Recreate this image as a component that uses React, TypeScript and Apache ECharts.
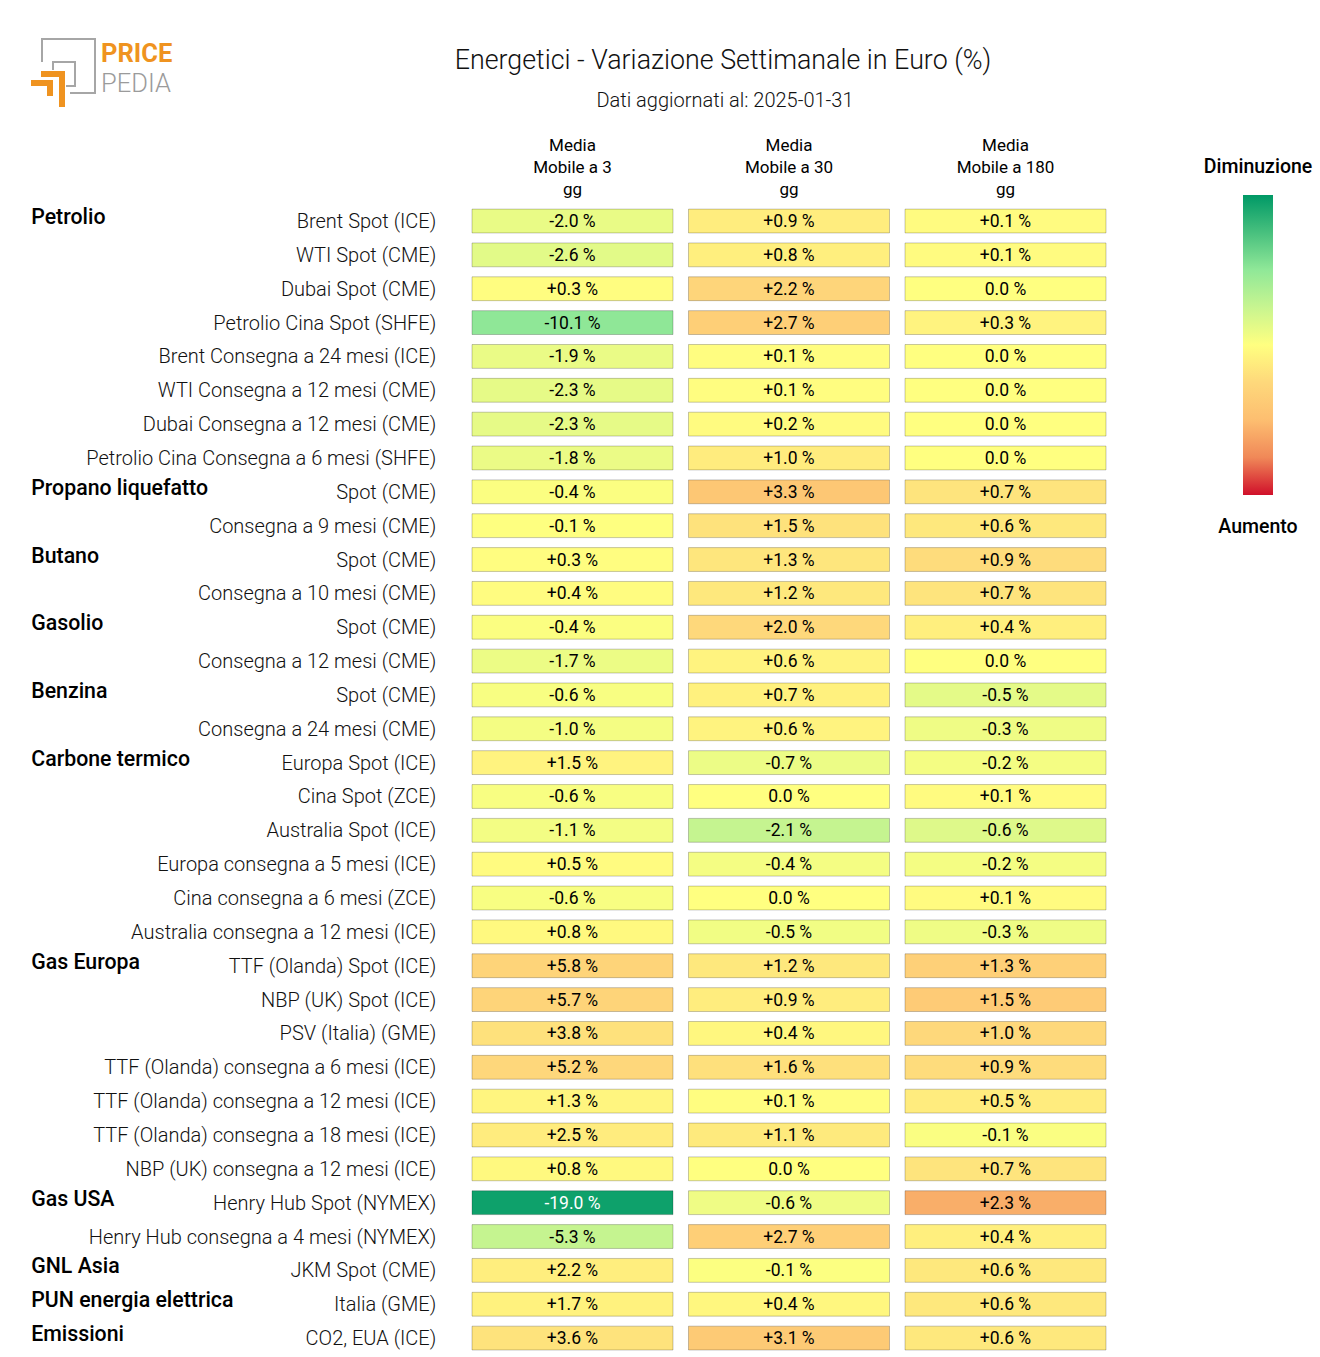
import React, { useEffect, useRef } from "react";
import * as echarts from "echarts";

const FONT = "Roboto, sans-serif";

const columns = ["Media\nMobile a 3\ngg", "Media\nMobile a 30\ngg", "Media\nMobile a 180\ngg"];

const groups = [
  "Petrolio", "", "", "", "", "", "", "",
  "Propano liquefatto", "",
  "Butano", "",
  "Gasolio", "",
  "Benzina", "",
  "Carbone termico", "", "", "", "", "",
  "Gas Europa", "", "", "", "", "", "",
  "Gas USA", "",
  "GNL Asia",
  "PUN energia elettrica",
  "Emissioni",
];

const items = [
  "Brent Spot (ICE)",
  "WTI Spot (CME)",
  "Dubai Spot (CME)",
  "Petrolio Cina Spot (SHFE)",
  "Brent Consegna a 24 mesi (ICE)",
  "WTI Consegna a 12 mesi (CME)",
  "Dubai Consegna a 12 mesi (CME)",
  "Petrolio Cina Consegna a 6 mesi (SHFE)",
  "Spot (CME)",
  "Consegna a 9 mesi (CME)",
  "Spot (CME)",
  "Consegna a 10 mesi (CME)",
  "Spot (CME)",
  "Consegna a 12 mesi (CME)",
  "Spot (CME)",
  "Consegna a 24 mesi (CME)",
  "Europa Spot (ICE)",
  "Cina Spot (ZCE)",
  "Australia Spot (ICE)",
  "Europa consegna a 5 mesi (ICE)",
  "Cina consegna a 6 mesi (ZCE)",
  "Australia consegna a 12 mesi (ICE)",
  "TTF (Olanda) Spot (ICE)",
  "NBP (UK) Spot (ICE)",
  "PSV (Italia) (GME)",
  "TTF (Olanda) consegna a 6 mesi (ICE)",
  "TTF (Olanda) consegna a 12 mesi (ICE)",
  "TTF (Olanda) consegna a 18 mesi (ICE)",
  "NBP (UK) consegna a 12 mesi (ICE)",
  "Henry Hub Spot (NYMEX)",
  "Henry Hub consegna a 4 mesi (NYMEX)",
  "JKM Spot (CME)",
  "Italia (GME)",
  "CO2, EUA (ICE)",
];

const mm3 = [
  -2.0, -2.6, 0.3, -10.1, -1.9, -2.3, -2.3, -1.8,
  -0.4, -0.1, 0.3, 0.4, -0.4, -1.7, -0.6, -1.0,
  1.5, -0.6, -1.1, 0.5, -0.6, 0.8,
  5.8, 5.7, 3.8, 5.2, 1.3, 2.5, 0.8,
  -19.0, -5.3, 2.2, 1.7, 3.6,
];
const mm30 = [
  0.9, 0.8, 2.2, 2.7, 0.1, 0.1, 0.2, 1.0,
  3.3, 1.5, 1.3, 1.2, 2.0, 0.6, 0.7, 0.6,
  -0.7, 0.0, -2.1, -0.4, 0.0, -0.5,
  1.2, 0.9, 0.4, 1.6, 0.1, 1.1, 0.0,
  -0.6, 2.7, -0.1, 0.4, 3.1,
];
const mm180 = [
  0.1, 0.1, 0.0, 0.3, 0.0, 0.0, 0.0, 0.0,
  0.7, 0.6, 0.9, 0.7, 0.4, 0.0, -0.5, -0.3,
  -0.2, 0.1, -0.6, -0.2, 0.1, -0.3,
  1.3, 1.5, 1.0, 0.9, 0.5, -0.1, 0.7,
  2.3, 0.4, 0.6, 0.6, 0.6,
];

const colRanges = [20, 8, 4];

const palette = [
  "#009966", "#48c07e", "#90e898", "#c8f590", "#ffff80",
  "#fed87b", "#fdbe70", "#f08858", "#d0102a",
];

function fmt(v: number): string {
  if (v > 0) return "+" + v.toFixed(1) + " %";
  if (v < 0) return "-" + Math.abs(v).toFixed(1) + " %";
  return "0.0 %";
}

const GRID_LEFT = 464.25;
const GRID_TOP = 204.1;
const GRID_W = 649.5;
const GRID_H = 1150.9;

export default function App() {
  const ref = useRef<HTMLDivElement>(null);
  useEffect(() => {
    if (!ref.current) return;
    const chart = echarts.init(ref.current, undefined, { renderer: "svg" });
    const cols = [mm3, mm30, mm180];
    const series = cols.map((vals, ci) => ({
      type: "custom",
      coordinateSystem: "cartesian2d",
      xAxisIndex: 0,
      yAxisIndex: 0,
      data: vals.map((v, ri) => [ci, ri, v]),
      encode: { x: 0, y: 1 },
      renderItem: (params: any, api: any) => {
        const x = api.value(0);
        const y = api.value(1);
        const v = api.value(2);
        const c = api.coord([x, y]);
        const s = api.size([1, 1]);
        const w = s[0] - 15.5;
        const h = s[1] - 10;
        const norm = v / colRanges[ci];
        const dark = norm < -0.75 || norm > 0.85;
        return {
          type: "group",
          children: [
            {
              type: "rect",
              shape: { x: c[0] - w / 2, y: c[1] - h / 2, width: w, height: h },
              style: { fill: api.visual("color"), stroke: "rgba(0,0,0,0.22)", lineWidth: 1 },
            },
            {
              type: "text",
              style: {
                text: fmt(v),
                x: c[0],
                y: c[1],
                align: "center",
                verticalAlign: "middle",
                fontFamily: FONT,
                fontSize: 17.5,
                fill: dark ? "#ffffff" : "#000000",
              },
            },
          ],
        };
      },
    }));

    const gradColors = palette.map((c, i) => ({ offset: i / (palette.length - 1), color: c }));

    const hiddenCat = {
      axisLine: { show: false },
      axisTick: { show: false },
      splitLine: { show: false },
    };

    chart.setOption({
      animation: false,
      backgroundColor: "#ffffff",
      textStyle: { fontFamily: FONT },
      title: [
        {
          text: "Energetici - Variazione Settimanale in Euro (%)",
          left: 718,
          top: 41,
          textAlign: "center",
          textStyle: { fontFamily: FONT, fontSize: 26.8, fontWeight: 300, color: "#111" },
        },
        {
          text: "Dati aggiornati al: 2025-01-31",
          left: 720,
          top: 85,
          textAlign: "center",
          textStyle: { fontFamily: FONT, fontSize: 20, fontWeight: 300, color: "#111" },
        },
      ],
      grid: [
        { left: GRID_LEFT, top: GRID_TOP, width: GRID_W, height: GRID_H, containLabel: false },
        { left: GRID_LEFT, top: GRID_TOP - 4.5, width: GRID_W, height: GRID_H, containLabel: false },
      ],
      xAxis: [
        {
          type: "category",
          gridIndex: 0,
          position: "top",
          data: columns,
          ...hiddenCat,
          axisLabel: {
            fontFamily: FONT,
            fontSize: 17,
            lineHeight: 22,
            color: "#000",
            margin: 4,
            interval: 0,
          },
        },
        {
          type: "category",
          gridIndex: 1,
          data: columns,
          show: false,
        },
      ],
      yAxis: [
        {
          type: "category",
          gridIndex: 0,
          data: items.map((s, i) => s + "\u200b".repeat(i)),
          inverse: true,
          ...hiddenCat,
          axisLabel: {
            fontFamily: FONT,
            fontSize: 20,
            fontWeight: 300,
            color: "#111",
            margin: 28,
            interval: 0,
            formatter: (v: string) => v.replace(/\u200b/g, ""),
          },
        },
        {
          type: "category",
          gridIndex: 1,
          data: groups.map((g, i) => g + "\u200b".repeat(i)),
          inverse: true,
          position: "left",
          ...hiddenCat,
          axisLabel: {
            fontFamily: FONT,
            fontSize: 21.3,
            fontWeight: 500,
            color: "#000",
            align: "left",
            margin: 433,
            interval: 0,
            formatter: (v: string) => v.replace(/\u200b/g, ""),
          },
        },
      ],
      visualMap: colRanges.map((r, i) => ({
        type: "continuous",
        show: false,
        seriesIndex: i,
        dimension: 2,
        min: -r,
        max: r,
        inRange: { color: palette },
      })),
      series,
      graphic: [
        // logo
        {
          type: "polyline",
          shape: { points: [[42, 62], [42, 39], [95, 39], [95, 93], [70, 93]] },
          style: { stroke: "#a6a6a6", lineWidth: 2, fill: null },
        },
        {
          type: "polyline",
          shape: { points: [[53, 70], [53, 62], [75, 62], [75, 86], [66, 86]] },
          style: { stroke: "#a6a6a6", lineWidth: 2, fill: null },
        },
        {
          type: "polyline",
          shape: { points: [[41, 74], [62, 74], [62, 107]] },
          style: { stroke: "#ef9320", lineWidth: 6, fill: null, lineJoin: "miter" },
        },
        {
          type: "polyline",
          shape: { points: [[31, 83], [50, 83], [50, 96]] },
          style: { stroke: "#ef9320", lineWidth: 6, fill: null, lineJoin: "miter" },
        },
        {
          type: "text",
          x: 101,
          y: 52.5,
          style: {
            text: "PRICE",
            fontFamily: FONT,
            fontSize: 25.5,
            fontWeight: 700,
            fill: "#ef9320",
            verticalAlign: "middle",
          },
        },
        {
          type: "text",
          x: 101,
          y: 82.5,
          style: {
            text: "PEDIA",
            fontFamily: FONT,
            fontSize: 25.5,
            fontWeight: 300,
            fill: "#9b9b9b",
            verticalAlign: "middle",
          },
        },
        // colorbar
        {
          type: "rect",
          shape: { x: 1243, y: 195, width: 30, height: 300 },
          style: {
            fill: new echarts.graphic.LinearGradient(0, 0, 0, 1, gradColors),
          },
        },
        {
          type: "text",
          x: 1258,
          y: 166,
          style: {
            text: "Diminuzione",
            fontFamily: FONT,
            fontSize: 19.5,
            fontWeight: 500,
            fill: "#000",
            align: "center",
            verticalAlign: "middle",
          },
        },
        {
          type: "text",
          x: 1258,
          y: 526,
          style: {
            text: "Aumento",
            fontFamily: FONT,
            fontSize: 19.5,
            fontWeight: 500,
            fill: "#000",
            align: "center",
            verticalAlign: "middle",
          },
        },
      ],
    });
    return () => chart.dispose();
  }, []);
  return (
    <div
      ref={ref}
      style={{ position: "absolute", left: 0, top: 0, width: 1320, height: 1357 }}
    />
  );
}
